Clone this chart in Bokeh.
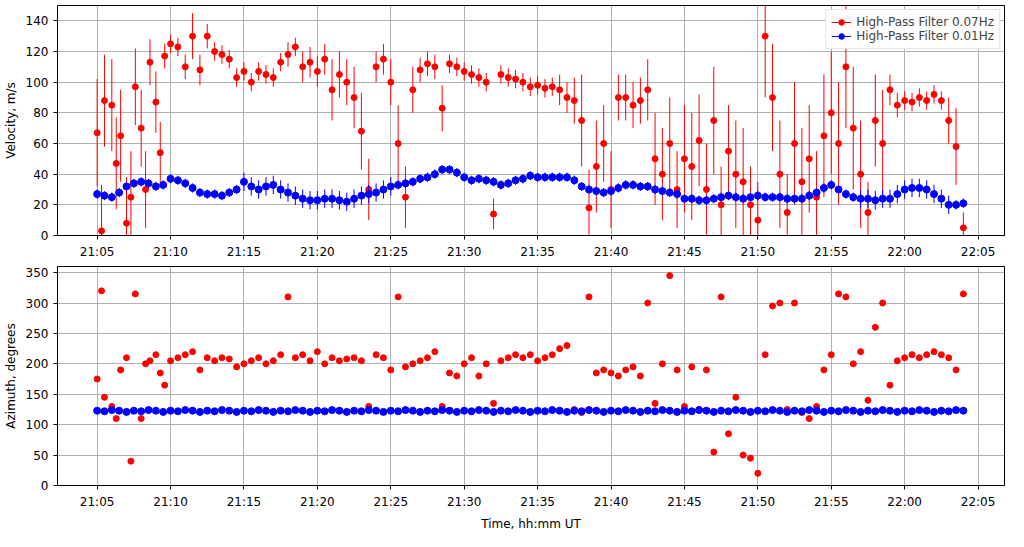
from bokeh.plotting import figure
from bokeh.layouts import column
from bokeh.models import FixedTicker, Range1d, Legend, LegendItem
from bokeh.embed import file_html
from bokeh.resources import INLINE

# minutes after 21:00, 30-second samples from 21:05 to 22:04
blue_v = [27, 26, 25, 28, 32, 34, 35, 34, 32, 33, 37, 36, 34, 31, 28, 27, 27, 26, 28, 30,
          35, 32, 30, 32, 33, 30, 28, 26, 24, 23, 23, 24, 24, 23, 22, 24, 26, 27, 28, 30,
          32, 33, 34, 35, 37, 38, 40, 43, 43, 41, 38, 36, 37, 36, 35, 33, 34, 36, 37, 39,
          38, 38, 38, 38, 38, 36, 32, 30, 29, 28, 29, 31, 33, 33, 32, 32, 30, 29, 28, 27,
          24, 24, 23, 23, 24, 25, 26, 25, 24, 25, 26, 25, 25, 25, 24, 24, 24, 26, 28, 31,
          33, 30, 27, 25, 24, 24, 23, 24, 24, 27, 30, 31, 31, 30, 27, 24, 20, 20, 21]
blue_t = [5 + 0.5 * i for i in range(len(blue_v))]
blue_ve = [3] * len(blue_v)
for i in range(len(blue_ve)):
    if 20 <= i <= 40 or 104 <= i <= 116:
        blue_ve[i] = 6

red_t = [5.0, 5.3, 5.5, 6.0, 6.3, 6.6, 7.0, 7.3, 7.6, 8.0, 8.3, 8.6, 9.0, 9.3, 9.6, 10.0, 10.5, 11.0, 11.5, 12.0,
         12.5, 13.0, 13.5, 14.0, 14.5, 15.0, 15.5, 16.0, 16.5, 17.0, 17.5, 18.0, 18.5, 19.0, 19.5, 20.0, 20.5, 21.0, 21.5, 22.0,
         22.5, 23.0, 23.5, 24.0, 24.5, 25.0, 25.5, 26.0, 26.5, 27.0, 27.5, 28.0, 28.5, 29.0, 29.5, 30.0, 30.5, 31.0, 31.5, 32.0,
         32.5, 33.0, 33.5, 34.0, 34.5, 35.0, 35.5, 36.0, 36.5, 37.0, 37.5, 38.0, 38.5, 39.0, 39.5, 40.0, 40.5, 41.0, 41.5, 42.0,
         42.5, 43.0, 43.5, 44.0, 44.5, 45.0, 45.5, 46.0, 46.5, 47.0, 47.5, 48.0, 48.5, 49.0, 49.5, 50.0, 50.5, 51.0, 51.5, 52.0,
         52.5, 53.0, 53.5, 54.0, 54.5, 55.0, 55.5, 56.0, 56.5, 57.0, 57.5, 58.0, 58.5, 59.0, 59.5, 60.0, 60.5, 61.0, 61.5, 62.0,
         62.5, 63.0, 63.5, 64.0]
red_v = [67, 3, 88, 85, 47, 65, 8, 25, 97, 70, 30, 113, 87, 54, 117, 125, 123, 110, 130, 108,
         130, 120, 118, 115, 103, 107, 100, 107, 105, 103, 113, 118, 123, 110, 113, 107, 115, 95, 105, 100,
         90, 68, 30, 110, 115, 100, 60, 25, 95, 108, 112, 110, 83, 112, 110, 107, 105, 103, 100, 14,
         105, 103, 102, 100, 97, 98, 96, 97, 95, 90, 88, 75, 18, 45, 60, 30, 90, 90, 85, 88,
         95, 50, 40, 60, 30, 50, 45, 62, 30, 75, 20, 55, 40, 35, 20, 10, 130, 90, 40, 15,
         60, 35, 50, 25, 65, 80, 60, 110, 70, 40, 15, 75, 60, 95, 85, 88, 87, 90, 88, 92,
         88, 75, 58, 5]
red_ve = [35, 30, 30, 30, 30, 30, 30, 30, 25, 25, 25, 15, 20, 20, 8, 6, 6, 8, 15, 10,
          8, 6, 6, 6, 6, 6, 6, 6, 6, 6, 6, 8, 6, 10, 10, 10, 10, 20, 15, 15,
          20, 25, 20, 10, 10, 15, 25, 20, 15, 8, 8, 8, 15, 6, 6, 6, 6, 6, 6, 10,
          6, 6, 6, 6, 6, 6, 6, 6, 10, 10, 15, 30, 25, 30, 25, 25, 15, 15, 15, 15,
          20, 30, 30, 30, 25, 35, 35, 30, 30, 35, 25, 30, 35, 35, 25, 25, 40, 35, 35, 25,
          40, 35, 35, 30, 40, 40, 40, 40, 40, 35, 20, 30, 35, 10, 8, 6, 6, 6, 6, 6,
          6, 15, 25, 10]

blue_az = [[123, 122, 124, 123, 121][i % 5] for i in range(len(blue_v))]
red_az = [175, 320, 145, 130, 110, 190, 210, 40, 315, 110, 200, 205, 215, 185, 165, 205, 210, 215, 220, 190,
          210, 205, 210, 208, 195, 200, 205, 210, 200, 205, 215, 310, 210, 215, 205, 220, 200, 210, 205, 208,
          210, 205, 130, 215, 210, 190, 310, 195, 200, 205, 210, 220, 130, 185, 180, 200, 210, 180, 200, 135,
          205, 210, 215, 210, 215, 205, 210, 215, 225, 230, 125, 120, 310, 185, 190, 185, 180, 190, 195, 180,
          300, 135, 200, 345, 190, 130, 195, 125, 190, 55, 310, 85, 145, 50, 45, 20, 215, 295, 300, 125,
          300, 120, 110, 130, 190, 215, 315, 310, 200, 220, 140, 260, 300, 165, 205, 210, 215, 210, 215, 220,
          215, 210, 190, 315]

ticks = [5 + 5 * i for i in range(13)]
labels = {t: "%d:%02d" % (21 + (t // 60), t % 60) for t in ticks}
F = "DejaVu Sans"

def style(p):
    p.xaxis.ticker = FixedTicker(ticks=ticks)
    p.xaxis.major_label_overrides = labels
    for ax in p.axis:
        ax.major_label_text_font = F
        ax.major_label_text_font_size = "12px"
        ax.major_label_text_color = "black"
        ax.axis_label_text_font = F
        ax.axis_label_text_font_size = "12px"
        ax.axis_label_text_font_style = "normal"
        ax.axis_label_text_color = "black"
        ax.minor_tick_line_color = None
        ax.major_tick_out = 4
        ax.major_tick_in = 0
    p.grid.grid_line_color = "#b0b0b0"
    p.outline_line_color = "black"
    p.x_range = Range1d(2.3, 66.8)

p1 = figure(width=1008, height=262, output_backend="svg", toolbar_location=None,
            min_border_left=49, min_border_right=4, min_border_top=5, min_border_bottom=27)
style(p1)
p1.y_range = Range1d(0, 150)
p1.yaxis.ticker = FixedTicker(ticks=[0, 20, 40, 60, 80, 100, 120, 140])
p1.yaxis.axis_label = "Velocity, m/s"
r_seg = p1.segment(red_t, [v - e for v, e in zip(red_v, red_ve)], red_t, [v + e for v, e in zip(red_v, red_ve)], color="red", line_width=1)
r_pts = p1.scatter(red_t, red_v, size=6, color="red")
b_seg = p1.segment(blue_t, [v - e for v, e in zip(blue_v, blue_ve)], blue_t, [v + e for v, e in zip(blue_v, blue_ve)], color="blue", line_width=1)
b_pts = p1.scatter(blue_t, blue_v, size=7, color="blue")
leg = Legend(items=[LegendItem(label="High-Pass Filter 0.07Hz", renderers=[r_seg, r_pts]),
                    LegendItem(label="High-Pass Filter 0.01Hz", renderers=[b_seg, b_pts])],
             location="top_right", label_text_font=F, label_text_font_size="12px",
             border_line_color="#cccccc", spacing=0, padding=5, margin=4,
             label_height=14, glyph_height=14)
p1.add_layout(leg)

p2 = figure(width=1008, height=271, output_backend="svg", toolbar_location=None,
            min_border_left=49, min_border_right=4, min_border_top=4, min_border_bottom=35)
style(p2)
p2.y_range = Range1d(0, 360)
p2.yaxis.ticker = FixedTicker(ticks=[0, 50, 100, 150, 200, 250, 300, 350])
p2.yaxis.axis_label = "Azimuth, degrees"
p2.xaxis.axis_label = "Time, hh:mm UT"
p2.scatter(red_t, red_az, size=6, color="red")
p2.scatter(blue_t, blue_az, size=7, color="blue")

open("out.html", "w").write(file_html(column(p1, p2), INLINE))
